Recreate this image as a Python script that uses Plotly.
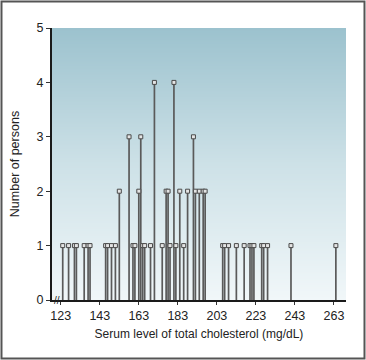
import plotly.graph_objects as go

# Serum cholesterol values (mg/dL) grouped by number of persons
chol_1 = [124, 127, 130, 131, 135, 137, 138, 146, 147, 149, 151, 160, 161, 165, 166,
          169, 175, 179, 182, 186, 206, 207, 209, 213, 217, 220, 221, 222, 226, 227,
          229, 241, 264]
chol_2 = [153, 163, 177, 178, 184, 188, 192, 194, 196, 197]
chol_3 = [158, 164, 191]
chol_4 = [171, 181]

x_ticks = [123, 143, 163, 183, 203, 223, 243, 263]
y_ticks = [0, 1, 2, 3, 4, 5]

xs = chol_1 + chol_2 + chol_3 + chol_4
ys = [1] * len(chol_1) + [2] * len(chol_2) + [3] * len(chol_3) + [4] * len(chol_4)

STEM = "#5a5a5a"

fig = go.Figure()

# background vertical gradient
fig.add_trace(go.Heatmap(
    x=[100, 300], y=[-0.5, 5.5], z=[[-0.5, -0.5], [5.5, 5.5]],
    zmin=0, zmax=5, zsmooth="best", showscale=False, hoverinfo="skip",
    colorscale=[[0, "#f1f7f9"], [0.5, "#cde1e7"], [1, "#9cc2ce"]],
))

fig.add_trace(go.Scatter(
    x=xs, y=ys, mode="markers",
    marker=dict(symbol="square", size=4, color="#e4e4e4",
                line=dict(color="#4a4a4a", width=1)),
    error_y=dict(type="data", symmetric=False, array=[0] * len(ys),
                 arrayminus=ys, width=0, thickness=1.7, color=STEM),
    hoverinfo="x+y", showlegend=False,
))

fig.update_layout(
    width=366, height=360,
    margin=dict(l=52, r=20, t=28, b=60),
    paper_bgcolor="white", plot_bgcolor="white",
    font=dict(family="Liberation Sans, Arial, sans-serif", size=12, color="#222"),
    showlegend=False,
    xaxis=dict(range=[118.5, 269.2], tickvals=x_ticks, ticks="outside", ticklen=3,
               tickcolor="#333", showgrid=False, zeroline=False, showline=True,
               linecolor="#1a1a1a", linewidth=2, tickfont=dict(size=12.5),
               title=dict(text="Serum level of total cholesterol (mg/dL)",
                          font=dict(size=12), standoff=8)),
    yaxis=dict(range=[0, 5], tickvals=y_ticks, ticks="outside", ticklen=4,
               tickcolor="#333", showgrid=False, zeroline=False, showline=True,
               linecolor="#1a1a1a", linewidth=2, tickfont=dict(size=12.5),
               title=dict(text="Number of persons", font=dict(size=12.5), standoff=14)),
    shapes=[dict(type="rect", xref="paper", yref="paper",
                 x0=-0.1718, x1=1.0629, y0=-0.2151, y1=1.0974,
                 line=dict(color="#555", width=2), fillcolor="rgba(0,0,0,0)")],
    annotations=[dict(text="//", xref="paper", yref="paper", x=0.017, y=0,
                      showarrow=False, font=dict(size=10, color="#222"),
                      xanchor="center", yanchor="middle")],
)

fig.write_html("out.html", config={"displayModeBar": False},
               post_script="document.body.style.margin='0';"
                           "document.body.style.overflow='hidden';")
